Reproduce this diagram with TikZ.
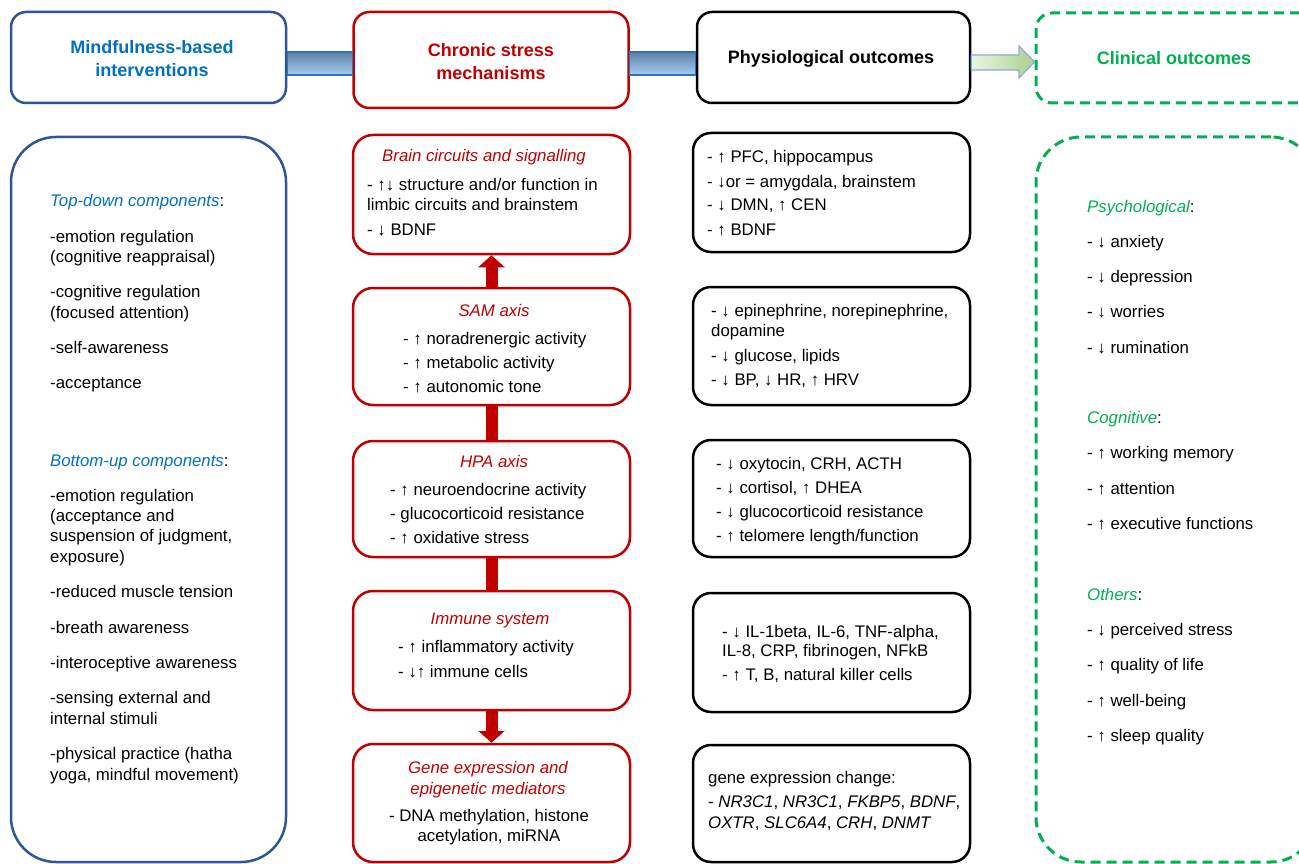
\documentclass[tikz,border=0pt]{standalone}
\usepackage{fontspec}
\setmainfont{Liberation Sans}
\usetikzlibrary{arrows.meta}
\definecolor{mbblue}{HTML}{0070C0}
\definecolor{bordblue}{HTML}{2F5597}
\definecolor{stred}{HTML}{C00000}
\definecolor{clgreen}{HTML}{00B050}
\definecolor{bartop}{HTML}{5F7FA6}
\definecolor{barbot}{HTML}{A3CFF2}
\definecolor{barline}{HTML}{2E75B6}
\definecolor{garrl}{HTML}{EAF6E3}
\definecolor{garrr}{HTML}{A9D18E}
\definecolor{garrline}{HTML}{8EA9DB}
\tikzset{
  box/.style={draw, line width=2.5pt, inner sep=0pt, rounded corners=#1},
  bluebox/.style={box=#1, draw=bordblue},
  redbox/.style={box=#1, draw=stred},
  blackbox/.style={box=#1, draw=black},
  greenbox/.style={box=#1, draw=clgreen, line width=3pt, dash pattern=on 10pt off 6pt},
  txt/.style={anchor=west, inner sep=0pt, text height=16pt, text depth=4pt, font=\fontsize{16.8}{20}\selectfont},
  ctxt/.style={txt, anchor=center},
  itred/.style={ctxt, text=stred, font=\fontsize{16.8}{20}\selectfont\itshape},
  head/.style={inner sep=0pt, align=center, font=\fontsize{18}{23}\selectfont\bfseries},
  bar/.style={draw=barline, line width=1.2pt, top color=bartop, bottom color=barbot},
  redconn/.style={draw=stred, line width=12pt},
  redarr/.style={redconn, -{Triangle[width=26pt,length=12pt]}}
}
\begin{document}
\begin{tikzpicture}[x=1pt,y=-1pt]
\useasboundingbox (0,0) rectangle (1299,864);
\clip (0,0) rectangle (1299,864);
% ---------- header row ----------
\node[bluebox=15pt, minimum width=275pt, minimum height=91pt] (hmb) at (148.5,57.5) {};
\node[redbox=16pt, minimum width=275pt, minimum height=96pt] (hcs) at (491,60) {};
\node[blackbox=15pt, minimum width=273pt, minimum height=91pt] (hpo) at (833.5,57.5) {};
\node[greenbox=16pt, minimum width=280pt, minimum height=90pt] (hco) at (1176,58) {};
\node[head, text=mbblue] (thmb) at (152,59) {Mindfulness-based\\interventions};
\node[head, text=stred] (thcs) at (491,62) {Chronic stress\\mechanisms};
\node[head, text=black] (thpo) at (831,59) {Physiological outcomes};
\node[head, text=clgreen] (thco) at (1174,58) {Clinical outcomes};
% header connectors
\path[bar] (hmb.east |- 0,52) rectangle (hcs.west |- 0,75);
\path[bar] (hcs.east |- 0,52) rectangle (hpo.west |- 0,75);
\path[draw=garrline, line width=1.2pt, left color=garrl, right color=garrr]
  (hpo.east |- 0,55) -- (1019,55) -- (1019,46) -- (hco.west |- 0,62) -- (1019,78) -- (1019,70) -- (hpo.east |- 0,70) -- cycle;
% ---------- left column ----------
\node[bluebox=45pt, minimum width=275pt, minimum height=725pt] (lmb) at (148.5,499.5) {};
\node[txt] (td) at (50,200) {\textcolor{mbblue}{\itshape Top-down components}:};
\node[txt] (td1) at (50,236) {-emotion regulation};
\node[txt] (td1b) at (50,256) {(cognitive reappraisal)};
\node[txt] (td2) at (50,291) {-cognitive regulation};
\node[txt] (td2b) at (50,312) {(focused attention)};
\node[txt] (td3) at (50,347) {-self-awareness};
\node[txt] (td4) at (50,382) {-acceptance};
\node[txt] (bu) at (50,460) {\textcolor{mbblue}{\itshape Bottom-up components}:};
\node[txt] (bu1) at (50,495) {-emotion regulation};
\node[txt] (bu1b) at (50,515) {(acceptance and};
\node[txt] (bu1c) at (50,535) {suspension of judgment,};
\node[txt] (bu1d) at (50,556) {exposure)};
\node[txt] (bu2) at (50,591) {-reduced muscle tension};
\node[txt] (bu3) at (50,627) {-breath awareness};
\node[txt] (bu4) at (50,662) {-interoceptive awareness};
\node[txt] (bu5) at (50,697) {-sensing external and};
\node[txt] (bu5b) at (50,718) {internal stimuli};
\node[txt] (bu6) at (50,753) {-physical practice (hatha};
\node[txt] (bu6b) at (50,774) {yoga, mindful movement)};
% ---------- red column ----------
\node[redbox=20pt, minimum width=277pt, minimum height=119pt] (brain) at (491.5,194.5) {};
\node[redbox=20pt, minimum width=277pt, minimum height=117pt] (sam) at (491.5,346.5) {};
\node[redbox=20pt, minimum width=277pt, minimum height=116pt] (hpa) at (491.5,499) {};
\node[redbox=20pt, minimum width=277pt, minimum height=119pt] (imm) at (491.5,650.5) {};
\node[redbox=20pt, minimum width=277pt, minimum height=118pt] (gene) at (491.5,803) {};
\draw[redarr] (sam.north) -- (brain.south);
\draw[redconn] (sam.south) -- (hpa.north);
\draw[redconn] (hpa.south) -- (imm.north);
\draw[redarr] (imm.south) -- (gene.north);
\node[itred] (tbr) at (484,156) {Brain circuits and signalling};
\node[txt] (br1) at (367,184) {- ↑↓ structure and/or function in};
\node[txt] (br1b) at (367,204) {limbic circuits and brainstem};
\node[txt] (br2) at (367,229) {- ↓ BDNF};
\node[itred] (tsam) at (494,310) {SAM axis};
\node[txt] (sa1) at (403,338) {- ↑ noradrenergic activity};
\node[txt] (sa2) at (403,362) {- ↑ metabolic activity};
\node[txt] (sa3) at (403,386) {- ↑ autonomic tone};
\node[itred] (thpa) at (494,461) {HPA axis};
\node[txt] (hp1) at (390,489) {- ↑ neuroendocrine activity};
\node[txt] (hp2) at (390,513) {- glucocorticoid resistance};
\node[txt] (hp3) at (390,537) {- ↑ oxidative stress};
\node[itred] (timm) at (490,618) {Immune system};
\node[txt] (im1) at (398,646) {- ↑ inflammatory activity};
\node[txt] (im2) at (398,671) {- ↓↑ immune cells};
\node[itred] (tge) at (488,767) {Gene expression and};
\node[itred] (tgeb) at (488,788) {epigenetic mediators};
\node[ctxt] (ge1) at (489,815) {- DNA methylation, histone};
\node[ctxt] (ge1b) at (489,835) {acetylation, miRNA};
% ---------- black column ----------
\node[blackbox=18pt, minimum width=277pt, minimum height=119pt] (p1) at (831.5,192.5) {};
\node[blackbox=18pt, minimum width=277pt, minimum height=118pt] (p2) at (831.5,346) {};
\node[blackbox=18pt, minimum width=277pt, minimum height=117pt] (p3) at (831.5,498.5) {};
\node[blackbox=18pt, minimum width=277pt, minimum height=119pt] (p4) at (831.5,652.5) {};
\node[blackbox=18pt, minimum width=277pt, minimum height=117pt] (p5) at (831.5,803.5) {};
\node[txt] (a1) at (707,157) {- ↑ PFC, hippocampus};
\node[txt] (a2) at (707,181) {- ↓or = amygdala, brainstem};
\node[txt] (a3) at (707,205) {- ↓ DMN, ↑ CEN};
\node[txt] (a4) at (707,229) {- ↑ BDNF};
\node[txt] (b1) at (711,310) {- ↓ epinephrine, norepinephrine,};
\node[txt] (b1b) at (711,330) {dopamine};
\node[txt] (b2) at (711,355) {- ↓ glucose, lipids};
\node[txt] (b3) at (711,379) {- ↓ BP, ↓ HR, ↑ HRV};
\node[txt] (c1) at (716,463) {- ↓ oxytocin, CRH, ACTH};
\node[txt] (c2) at (716,487) {- ↓ cortisol, ↑ DHEA};
\node[txt] (c3) at (716,511) {- ↓ glucocorticoid resistance};
\node[txt] (c4) at (716,535) {- ↑ telomere length/function};
\node[txt] (d1) at (722,631) {- ↓ IL-1beta, IL-6, TNF-alpha,};
\node[txt] (d1b) at (722,650) {IL-8, CRP, fibrinogen, NFkB};
\node[txt] (d2) at (722,674) {- ↑ T, B, natural killer cells};
\node[txt] (e1) at (708,777) {gene expression change:};
\node[txt] (e2) at (708,801) {- \textit{NR3C1}, \textit{NR3C1}, \textit{FKBP5}, \textit{BDNF},};
\node[txt] (e2b) at (708,822) {\textit{OXTR}, \textit{SLC6A4}, \textit{CRH}, \textit{DNMT}};
% ---------- green column ----------
\node[greenbox=45pt, minimum width=280pt, minimum height=725pt] (clin) at (1176,499.5) {};
\node[txt] (ps) at (1087,206) {\textcolor{clgreen}{\itshape Psychological}:};
\node[txt] (ps1) at (1087,241) {- ↓ anxiety};
\node[txt] (ps2) at (1087,276) {- ↓ depression};
\node[txt] (ps3) at (1087,311) {- ↓ worries};
\node[txt] (ps4) at (1087,347) {- ↓ rumination};
\node[txt] (cg) at (1087,417) {\textcolor{clgreen}{\itshape Cognitive}:};
\node[txt] (cg1) at (1087,452) {- ↑ working memory};
\node[txt] (cg2) at (1087,488) {- ↑ attention};
\node[txt] (cg3) at (1087,523) {- ↑ executive functions};
\node[txt] (ot) at (1087,594) {\textcolor{clgreen}{\itshape Others}:};
\node[txt] (ot1) at (1087,629) {- ↓ perceived stress};
\node[txt] (ot2) at (1087,664) {- ↑ quality of life};
\node[txt] (ot3) at (1087,700) {- ↑ well-being};
\node[txt] (ot4) at (1087,735) {- ↑ sleep quality};
\end{tikzpicture}
\end{document}
